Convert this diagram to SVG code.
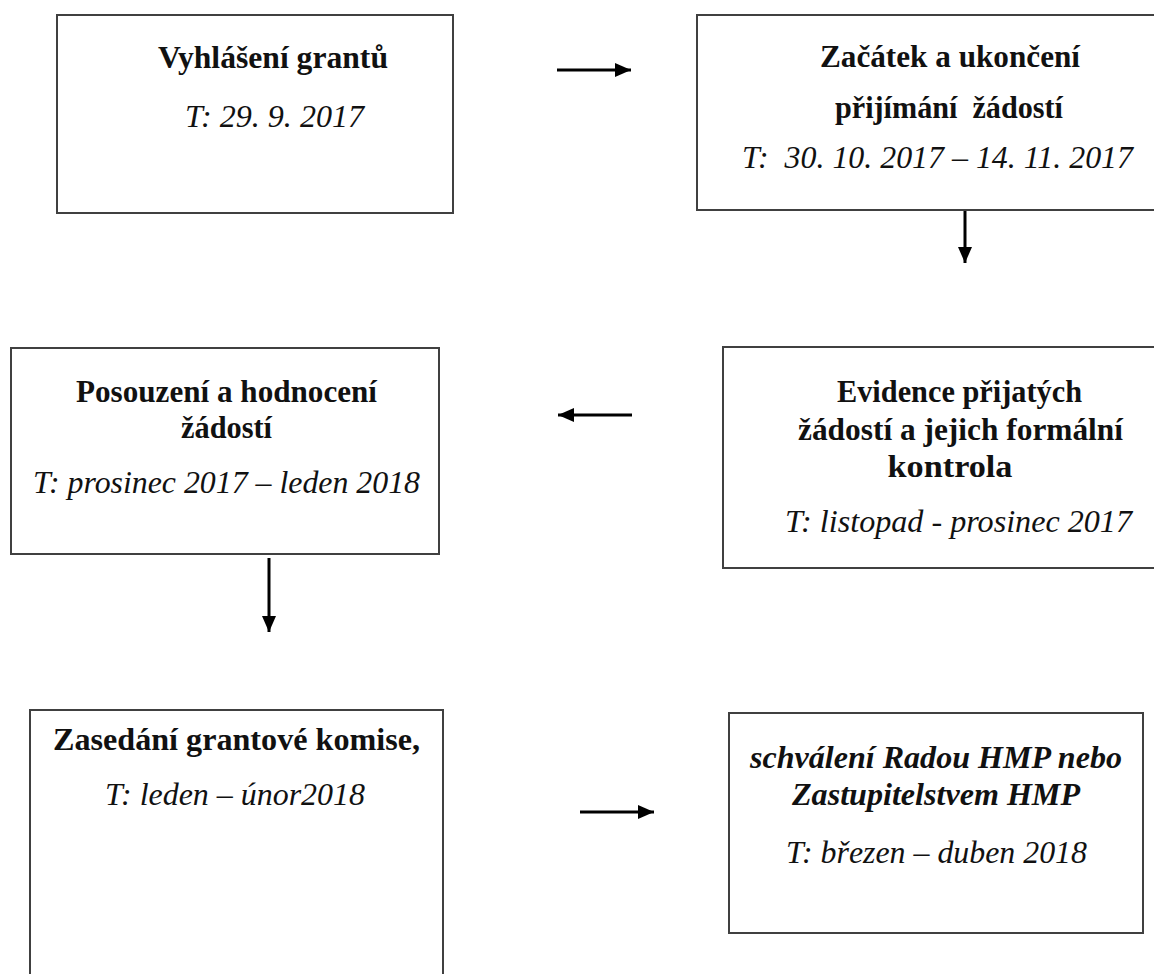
<svg xmlns="http://www.w3.org/2000/svg" width="1154" height="974" viewBox="0 0 1154 974">
<style>
.box{fill:#fff;stroke:#404040;stroke-width:2}
.t{font-family:"Liberation Serif","Times New Roman",serif;font-size:31px;fill:#111;text-anchor:middle}
.b{font-weight:bold}
.i{font-style:italic}
.c{stroke:#000;stroke-width:3;fill:none;marker-end:url(#ah)}
</style>
<defs>
<marker id="ah" markerUnits="userSpaceOnUse" viewBox="0 0 16 14" refX="16" refY="7" markerWidth="16" markerHeight="14" orient="auto">
<path d="M0,0 L16,7 L0,14 z" fill="#000"/>
</marker>
</defs>
<rect width="1154" height="974" fill="#fff"/>
<g id="connectors">
<line class="c" x1="557" y1="70" x2="631" y2="70"/>
<line class="c" x1="965" y1="192" x2="965" y2="263"/>
<line class="c" x1="632" y1="415" x2="558" y2="415"/>
<line class="c" x1="269" y1="558" x2="269" y2="632"/>
<line class="c" x1="580" y1="812" x2="654" y2="812"/>
</g>
<g id="n1">
<rect class="box" x="57" y="15" width="396" height="198"/>
<text class="t b" x="273" y="68" textLength="230" lengthAdjust="spacingAndGlyphs">Vyhlášení grantů</text>
<text class="t i" x="274.5" y="127" textLength="179" lengthAdjust="spacingAndGlyphs">T: 29. 9. 2017</text>
</g>
<g id="n2">
<rect class="box" x="697" y="15" width="502" height="195"/>
<text class="t b" x="950" y="67" textLength="260" lengthAdjust="spacingAndGlyphs">Začátek a ukončení</text>
<text class="t b" x="949" y="118" textLength="228" lengthAdjust="spacingAndGlyphs" xml:space="preserve">přijímání  žádostí</text>
<text class="t i" x="937.5" y="168" textLength="391" lengthAdjust="spacingAndGlyphs" xml:space="preserve">T:  30. 10. 2017 – 14. 11. 2017</text>
</g>
<g id="n3">
<rect class="box" x="11" y="348" width="428" height="206"/>
<text class="t b" x="226.5" y="402" textLength="301" lengthAdjust="spacingAndGlyphs">Posouzení a hodnocení</text>
<text class="t b" x="226.5" y="438" textLength="91" lengthAdjust="spacingAndGlyphs">žádostí</text>
<text class="t i" x="226.5" y="493" textLength="387" lengthAdjust="spacingAndGlyphs">T: prosinec 2017 – leden 2018</text>
</g>
<g id="n4">
<rect class="box" x="723" y="347" width="474" height="221"/>
<text class="t b" x="959.5" y="402" textLength="245" lengthAdjust="spacingAndGlyphs">Evidence přijatých</text>
<text class="t b" x="960.5" y="440" textLength="325" lengthAdjust="spacingAndGlyphs">žádostí a jejich formální</text>
<text class="t b" x="950" y="477" textLength="125" lengthAdjust="spacingAndGlyphs">kontrola</text>
<text class="t i" x="958.5" y="532" textLength="347" lengthAdjust="spacingAndGlyphs">T: listopad - prosinec 2017</text>
</g>
<g id="n5">
<rect class="box" x="30" y="710" width="413" height="300"/>
<text class="t b" x="236.5" y="750" textLength="367" lengthAdjust="spacingAndGlyphs">Zasedání grantové komise,</text>
<text class="t i" x="235" y="805" textLength="260" lengthAdjust="spacingAndGlyphs">T: leden – únor2018</text>
</g>
<g id="n6">
<rect class="box" x="729" y="713" width="414" height="220"/>
<text class="t b i" x="936" y="768" textLength="372" lengthAdjust="spacingAndGlyphs">schválení Radou HMP nebo</text>
<text class="t b i" x="936" y="805" textLength="288" lengthAdjust="spacingAndGlyphs">Zastupitelstvem HMP</text>
<text class="t i" x="936.5" y="863" textLength="301" lengthAdjust="spacingAndGlyphs">T: březen – duben 2018</text>
</g>
</svg>
